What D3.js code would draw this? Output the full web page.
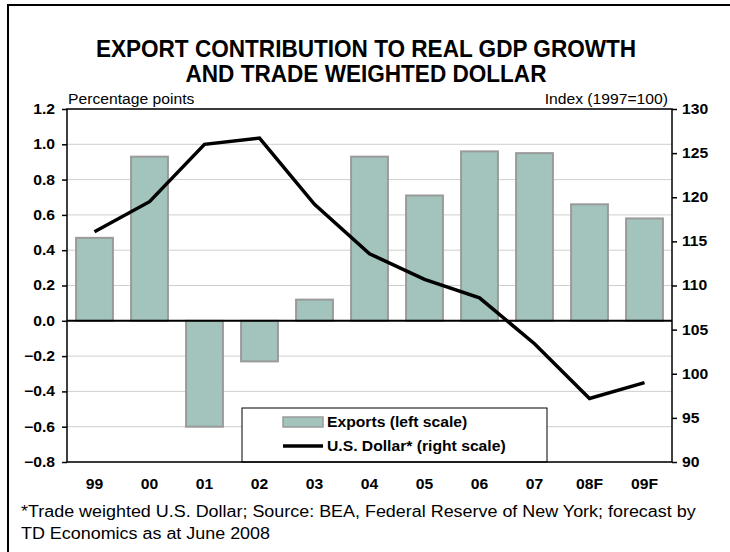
<!DOCTYPE html>
<html><head><meta charset="utf-8">
<script src="https://cdn.jsdelivr.net/npm/d3@7"></script>
<style>
html,body{margin:0;padding:0;background:#fff;}
svg{display:block;font-family:"Liberation Sans",Arial,sans-serif;}
</style></head>
<body><svg id="c" width="730" height="552"></svg>
<script>
const categories = ["99","00","01","02","03","04","05","06","07","08F","09F"];
const exportsContribution = [0.47, 0.93, -0.60, -0.23, 0.12, 0.93, 0.71, 0.96, 0.95, 0.66, 0.58];
const usDollar = [116.1, 119.5, 126.0, 126.7, 119.2, 113.6, 110.7, 108.6, 103.4, 97.2, 99.0];
const leftTicks = [-0.8,-0.6,-0.4,-0.2,0.0,0.2,0.4,0.6,0.8,1.0,1.2];
const rightTicks = [90,95,100,105,110,115,120,125,130];
const titleLines = ["EXPORT CONTRIBUTION TO REAL GDP GROWTH","AND TRADE WEIGHTED DOLLAR"];
const footnoteLines = ["*Trade weighted U.S. Dollar; Source: BEA, Federal Reserve of New York; forecast by","TD Economics as at June 2008"];

const svg = d3.select("#c");
const L = 67, R = 672, T = 109, B = 462;
const barFill = "#a2c4bd", barStroke = "#9a9a9a";
const SX = 1.12;      // horizontal stretch of the reference's body text
const TITLE_SX = 0.94; // title is slightly condensed

function stretch(sel, sx){
  sel.each(function(){
    const w = this.getComputedTextLength();
    d3.select(this).attr("textLength", w*sx).attr("lengthAdjust","spacingAndGlyphs");
  });
}

// outer border
svg.append("rect").attr("x",8).attr("y",5).attr("width",740).attr("height",570)
  .attr("fill","none").attr("stroke","#000").attr("stroke-width",2);

// title
const tt = svg.selectAll("text.title").data(titleLines).join("text").attr("class","title")
  .attr("x",366).attr("y",(d,i)=>57+i*25).attr("text-anchor","middle")
  .attr("font-size",24).attr("font-weight","bold").text(d=>d);
stretch(tt, TITLE_SX);

const x = d3.scaleBand().domain(categories).range([L,R]).paddingInner(0.33).paddingOuter(0.165);
const yL = d3.scaleLinear().domain([-0.8,1.2]).range([B,T]);
const yR = d3.scaleLinear().domain([90,130]).range([B,T]);

// gridlines
svg.append("g").selectAll("line").data(leftTicks).join("line")
  .attr("x1",L).attr("x2",R).attr("y1",d=>yL(d)).attr("y2",d=>yL(d))
  .attr("stroke","#cfcfcf").attr("stroke-width",1);

// bars
svg.append("g").selectAll("rect").data(exportsContribution).join("rect")
  .attr("x",(d,i)=>x(categories[i])).attr("width",x.bandwidth())
  .attr("y",d=>yL(Math.max(0,d))).attr("height",d=>Math.abs(yL(d)-yL(0)))
  .attr("fill",barFill).attr("stroke",barStroke).attr("stroke-width",2);

// zero line
svg.append("line").attr("x1",L).attr("x2",R).attr("y1",yL(0)).attr("y2",yL(0))
  .attr("stroke","#000").attr("stroke-width",2);

// line
const line = d3.line().x((d,i)=>x(categories[i])+x.bandwidth()/2).y(d=>yR(d));
svg.append("path").datum(usDollar).attr("d",line).attr("fill","none")
  .attr("stroke","#000").attr("stroke-width",3.5).attr("stroke-linejoin","miter");

// legend
const lg = svg.append("g");
lg.append("rect").attr("x",242).attr("y",408).attr("width",305).attr("height",B-408)
  .attr("fill","#fff").attr("stroke","#000").attr("stroke-width",1);
lg.append("rect").attr("x",283).attr("y",417).attr("width",40).attr("height",10)
  .attr("fill",barFill).attr("stroke",barStroke).attr("stroke-width",1.5);
lg.append("text").attr("class","s").attr("x",327).attr("y",427).attr("font-size",14).attr("font-weight","bold").text("Exports (left scale)");
lg.append("line").attr("x1",283).attr("x2",323).attr("y1",446).attr("y2",446).attr("stroke","#000").attr("stroke-width",3.5);
lg.append("text").attr("class","s").attr("x",327).attr("y",451).attr("font-size",14).attr("font-weight","bold").text("U.S. Dollar* (right scale)");

// plot frame
svg.append("rect").attr("x",L).attr("y",T).attr("width",R-L).attr("height",B-T)
  .attr("fill","none").attr("stroke","#000").attr("stroke-width",1.5);

// axes
const axL = d3.axisLeft(yL).tickValues(leftTicks).tickFormat(d3.format(".1f")).tickSize(5).tickPadding(7);
const gL = svg.append("g").attr("transform",`translate(${L},0)`).call(axL);
const axR = d3.axisRight(yR).tickValues(rightTicks).tickFormat(d3.format("d")).tickSize(5).tickPadding(5);
const gR = svg.append("g").attr("transform",`translate(${R},0)`).call(axR);
[gL,gR].forEach(g=>{
  g.select(".domain").remove();
  g.selectAll("line").attr("stroke","#000").attr("stroke-width",1.5);
  g.selectAll("text").attr("class","s").attr("font-size",14).attr("font-weight","bold").attr("fill","#000")
   .attr("font-family","'Liberation Sans',Arial,sans-serif");
});
const axB = d3.axisBottom(x).tickSize(0).tickPadding(0);
const gB = svg.append("g").attr("transform",`translate(0,${B})`).call(axB);
gB.select(".domain").remove();
gB.selectAll("text").attr("class","s").attr("y",27).attr("dy",0).attr("font-size",14).attr("font-weight","bold").attr("fill","#000")
  .attr("font-family","'Liberation Sans',Arial,sans-serif");

// axis titles
svg.append("text").attr("class","s").attr("x",68).attr("y",104).attr("font-size",14).text("Percentage points");
svg.append("text").attr("class","s").attr("x",668).attr("y",104).attr("text-anchor","end").attr("font-size",14).text("Index (1997=100)");

// footnote
svg.selectAll("text.foot").data(footnoteLines).join("text").attr("class","s")
  .attr("x",21).attr("y",(d,i)=>517+i*22).attr("font-size",16).text(d=>d);

stretch(svg.selectAll("text.s"), SX);
</script></body></html>
